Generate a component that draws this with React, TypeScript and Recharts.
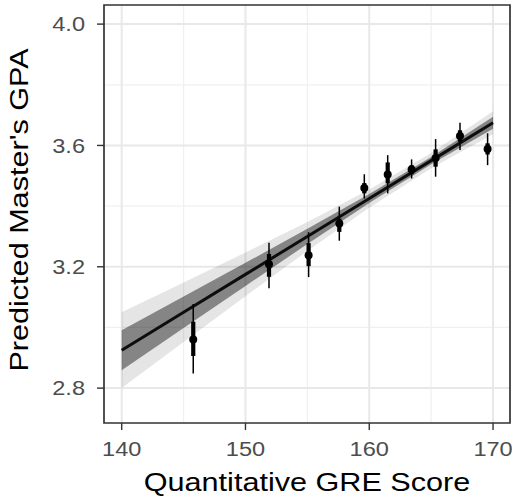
import React from "react";
import {
  ComposedChart,
  XAxis,
  YAxis,
  CartesianGrid,
  Area,
  Line,
  Scatter,
  ErrorBar,
  ReferenceArea,
} from "recharts";

// binned observations
const scores = [145.78, 151.9, 155.1, 157.58, 159.6, 161.49, 163.42, 165.36, 167.33, 169.56];
const gpaMean = [2.96, 3.208, 3.238, 3.343, 3.46, 3.504, 3.521, 3.559, 3.631, 3.588];
const gpaOuterLo = [2.848, 3.129, 3.166, 3.286, 3.425, 3.442, 3.491, 3.497, 3.585, 3.535];
const gpaOuterHi = [3.077, 3.279, 3.314, 3.398, 3.505, 3.568, 3.554, 3.621, 3.675, 3.64];
const gpaInnerLo = [2.906, 3.167, 3.202, 3.315, 3.442, 3.475, 3.505, 3.53, 3.612, 3.57];
const gpaInnerHi = [3.019, 3.242, 3.278, 3.359, 3.476, 3.544, 3.535, 3.587, 3.65, 3.607];

// fitted line with its two bands
const fitX = [140, 145, 150, 155, 160, 165, 170];
const fitY = [2.925, 3.05, 3.175, 3.3, 3.425, 3.55, 3.675];
const darkLo = [2.859, 2.998, 3.137, 3.275, 3.41, 3.538, 3.655];
const darkHi = [2.991, 3.102, 3.213, 3.325, 3.44, 3.562, 3.695];
const lightLo = [2.8, 2.952, 3.103, 3.252, 3.395, 3.525, 3.637];
const lightHi = [3.05, 3.148, 3.247, 3.348, 3.455, 3.575, 3.713];

const xTicks = [140, 150, 160, 170];
const xMinor = [145, 155, 165];
const yTicks = [2.8, 3.2, 3.6, 4.0];
const yMinor = [3.0, 3.4, 3.8];

const X_DOMAIN: [number, number] = [138.57, 171.37];
const Y_DOMAIN: [number, number] = [2.685, 4.063];

const FONT = "'Liberation Sans', Arial, Helvetica, sans-serif";

const points = scores.map((x, i) => ({
  x,
  y: gpaMean[i],
  outer: [gpaMean[i] - gpaOuterLo[i], gpaOuterHi[i] - gpaMean[i]],
  inner: [gpaMean[i] - gpaInnerLo[i], gpaInnerHi[i] - gpaMean[i]],
}));

const fit = fitX.map((x, i) => ({
  x,
  fit: fitY[i],
  dark: [darkLo[i], darkHi[i]],
  light: [lightLo[i], lightHi[i]],
}));

const XTick = (props: any) => {
  const { x, y, payload } = props;
  return (
    <g transform={`translate(${x},${y + 26}) scale(1.15,1)`}>
      <text x={0} y={0} textAnchor="middle" fill="#4d4d4d" fontSize={20.5} fontFamily={FONT}>
        {payload.value}
      </text>
    </g>
  );
};

const YTick = (props: any) => {
  const { x, y, payload } = props;
  return (
    <g transform={`translate(${x - 12},${y}) scale(1.15,1)`}>
      <text x={0} y={0} dy="0.36em" textAnchor="end" fill="#4d4d4d" fontSize={20.5} fontFamily={FONT}>
        {Number(payload.value).toFixed(1)}
      </text>
    </g>
  );
};

const XTitle = (props: any) => {
  const vb = props.viewBox;
  return (
    <g transform={`translate(${vb.x + vb.width / 2},${vb.y + 68}) scale(1.2,1)`}>
      <text textAnchor="middle" fill="#000" fontSize={25.5} fontFamily={FONT}>
        Quantitative GRE Score
      </text>
    </g>
  );
};

const YTitle = (props: any) => {
  const vb = props.viewBox;
  return (
    <g transform={`translate(28,${vb.y + vb.height / 2 - 4}) rotate(-90) scale(1.2,1)`}>
      <text textAnchor="middle" fill="#000" fontSize={25.5} fontFamily={FONT}>
        Predicted Master's GPA
      </text>
    </g>
  );
};

const Dot = (p: any) => <circle cx={p.cx} cy={p.cy} r={4} fill="#000" />;

export default function App() {
  return (
    <div style={{ position: "absolute", left: 0, top: 0, background: "#fff" }}>
      <ComposedChart width={512} height={499} margin={{ top: 5, right: 2, bottom: 0, left: 0 }}>
        <CartesianGrid
          verticalValues={xMinor}
          horizontalValues={yMinor}
          stroke="#f0f0f0"
          strokeWidth={1.2}
        />
        <CartesianGrid
          verticalValues={xTicks}
          horizontalValues={yTicks}
          stroke="#e8e8e8"
          strokeWidth={2}
        />
        <XAxis
          type="number"
          dataKey="x"
          domain={X_DOMAIN}
          ticks={xTicks}
          allowDataOverflow
          height={76}
          axisLine={false}
          tickLine={{ stroke: "#333", strokeWidth: 1.4 }}
          tickSize={7}
          tickMargin={0}
          tick={<XTick />}
          label={{ content: <XTitle /> } as any}
        />
        <YAxis
          type="number"
          domain={Y_DOMAIN}
          ticks={yTicks}
          allowDataOverflow
          width={104}
          axisLine={false}
          tickLine={{ stroke: "#333", strokeWidth: 1.4 }}
          tickSize={7}
          tickMargin={0}
          tick={<YTick />}
          label={{ content: <YTitle /> } as any}
        />
        <Area
          data={fit}
          dataKey="light"
          type="linear"
          stroke="none"
          fill="#000"
          fillOpacity={0.1}
          isAnimationActive={false}
        />
        <Area
          data={fit}
          dataKey="dark"
          type="linear"
          stroke="none"
          fill="#000"
          fillOpacity={0.42}
          isAnimationActive={false}
        />
        <Line
          data={fit}
          dataKey="fit"
          type="linear"
          stroke="#0d0d0d"
          strokeWidth={3}
          dot={false}
          isAnimationActive={false}
        />
        <Scatter data={points} dataKey="y" shape={<Dot />} isAnimationActive={false}>
          <ErrorBar dataKey="outer" direction="y" width={0} stroke="#000" strokeWidth={1.5} />
          <ErrorBar dataKey="inner" direction="y" width={0} stroke="#000" strokeWidth={4.2} />
        </Scatter>
        <ReferenceArea
          x1={X_DOMAIN[0]}
          x2={X_DOMAIN[1]}
          y1={Y_DOMAIN[0]}
          y2={Y_DOMAIN[1]}
          fill="none"
          stroke="#333"
          strokeWidth={1.7}
          ifOverflow="visible"
        />
      </ComposedChart>
    </div>
  );
}
